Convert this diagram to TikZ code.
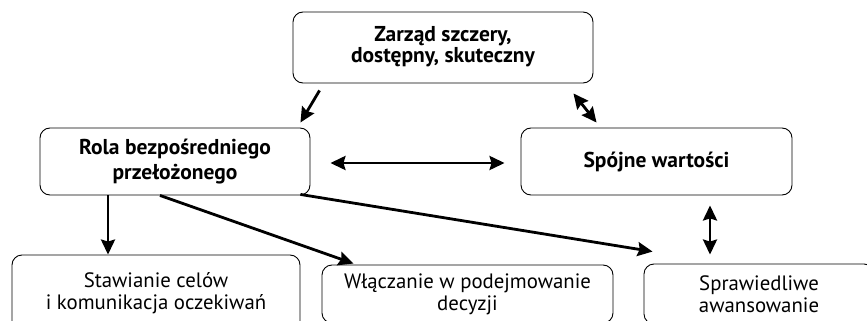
\documentclass[tikz,border=0pt]{standalone}
\usepackage{fontspec}
\setmainfont{PT Sans}
\usetikzlibrary{arrows.meta,calc}
\tikzset{
  box/.style={draw, line width=0.9pt, rounded corners=10pt, align=center, inner sep=0pt},
  hd/.style={font=\fontsize{21.5}{21}\selectfont\bfseries},
  rg/.style={font=\fontsize{20.8}{22}\selectfont},
  tip/.tip={Stealth[length=15pt,width=14pt,inset=2pt]},
  arr/.style={line width=2.8pt, -tip},
  darr/.style={line width=2.8pt, tip-tip},
}
\begin{document}
\begin{tikzpicture}[x=1pt,y=-1pt]
\useasboundingbox (0,0) rectangle (867,321);
\clip (0,0) rectangle (867,321);
\node[box,hd,minimum width=300pt,minimum height=71pt] (top) at (443,47.5) {\raisebox{-3pt}{\begin{tabular}{@{}c@{}}Zarząd szczery,\\dostępny, skuteczny\end{tabular}}};
\node[box,hd,minimum width=270pt,minimum height=67pt,font=\fontsize{21.5}{25}\selectfont\bfseries] (left) at (175,161.5) {Rola bezpośredniego\\przełożonego};
\node[box,hd,minimum width=271pt,minimum height=67pt] (right) at (656.5,161.5) {Spójne wartości};
\node[box,rg,minimum width=288pt,minimum height=76pt] (b1) at (156,293) {Stawianie celów\\i komunikacja oczekiwań};
\node[box,rg,minimum width=291pt,minimum height=58pt] (b2) at (467.5,294) {Włączanie w podejmowanie\\decyzji};
\node[box,rg,minimum width=230pt,minimum height=60pt] (b3) at (759,294) {Sprawiedliwe\\awansowanie};
\coordinate (a1s) at ($(top.south west)+(27,7)$);
\coordinate (a1e) at ($(left.north east)+(-10,-5)$);
\draw[arr] (a1s) -- (a1e);
\coordinate (a2s) at ($(top.south east)+(-20,10)$);
\coordinate (a2e) at ($(right.north west)+(76,-5)$);
\draw[darr] (a2s) -- (a2e);
\coordinate (a3s) at ($(left.east)+(20,1.5)$);
\coordinate (a3e) at ($(right.west)+(-16,1.5)$);
\draw[darr] (a3s) -- (a3e);
\coordinate (a4s) at ($(left.south)+(-67,0)$);
\coordinate (a4e) at ($(b1.north)+(-48,0)$);
\draw[arr] (a4s) -- (a4e);
\coordinate (a5s) at ($(left.south)+(-15,0)$);
\coordinate (a5e) at ($(b2.north)+(-114,-1)$);
\draw[arr] (a5s) -- (a5e);
\coordinate (a6s) at ($(left.south east)+(-10,-1)$);
\coordinate (a6e) at ($(b3.north west)+(9,-12)$);
\draw[arr] (a6s) -- (a6e);
\coordinate (a7s) at ($(right.south)+(53.5,10)$);
\coordinate (a7e) at ($(b3.north)+(-49,-9)$);
\draw[darr] (a7s) -- (a7e);
\end{tikzpicture}
\end{document}
